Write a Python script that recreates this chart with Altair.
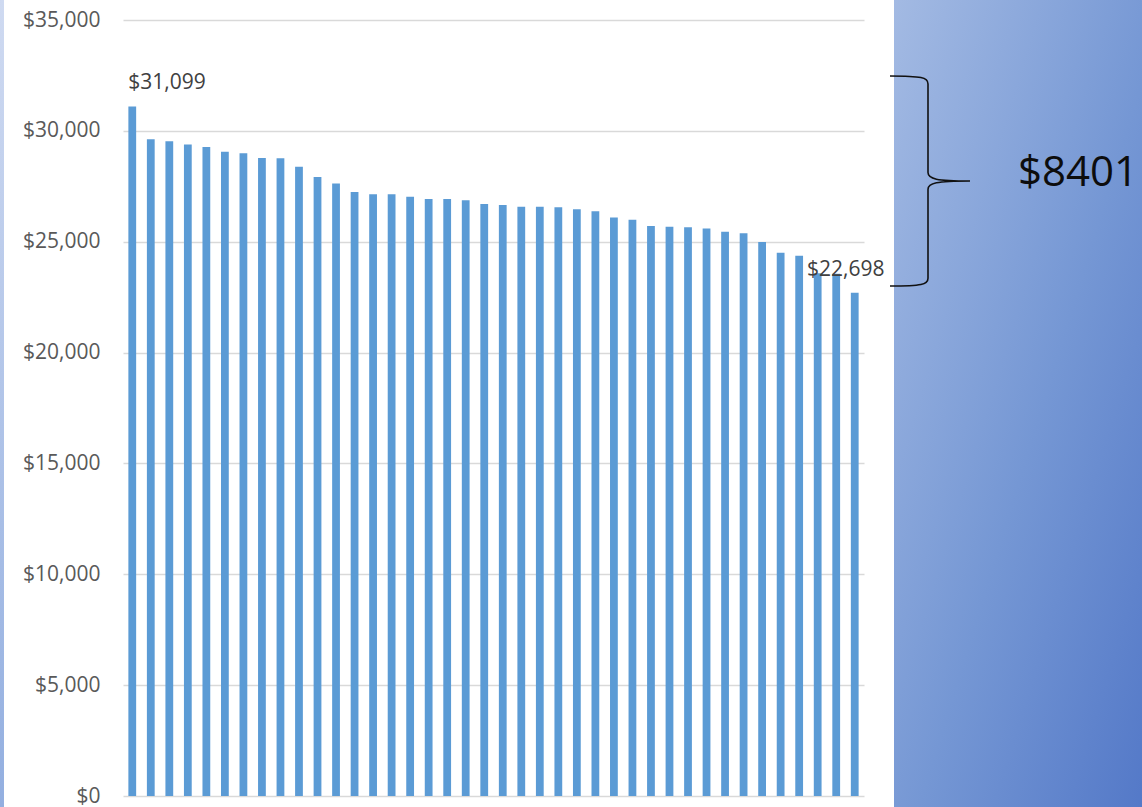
import altair as alt
import pandas as pd

# Amount per item, ranked from highest to lowest
amounts = [31099, 29620, 29530, 29390, 29270, 29060, 28990, 28780, 28760, 28380,
           27920, 27630, 27240, 27140, 27140, 27030, 26930, 26930, 26870, 26700,
           26660, 26580, 26580, 26550, 26460, 26370, 26090, 25990, 25710, 25680,
           25650, 25600, 25450, 25380, 24990, 24500, 24370, 23580, 23560, 22698]
ranks = list(range(1, len(amounts) + 1))
y_ticks = [0, 5000, 10000, 15000, 20000, 25000, 30000, 35000]

df = pd.DataFrame({"rank": ranks, "amount": amounts})

# Gap between the highest and the lowest amount
spread = max(amounts) - min(amounts)
spread_df = pd.DataFrame({"label": [f"${spread}"]})

FONT = "Open Sans"
BAR_BLUE = "#5b9bd5"

x_enc = alt.X("rank:O", axis=None,
              scale=alt.Scale(paddingInner=0.58, paddingOuter=0.29))
y_enc = alt.Y("amount:Q",
              scale=alt.Scale(domain=[0, 35000], nice=False, zero=True),
              axis=alt.Axis(values=y_ticks, format="$,.0f", title=None))

# Decorative panels
right_panel = alt.Chart(spread_df).mark_rect(
    fill=alt.LinearGradient(
        gradient="linear",
        stops=[alt.GradientStop(color="#a3bae3", offset=0),
               alt.GradientStop(color="#7597d4", offset=0.55),
               alt.GradientStop(color="#5479c8", offset=1)],
        x1=0, y1=0, x2=1, y2=1),
    stroke=None,
).encode(x=alt.value(771), x2=alt.value(1019), y=alt.value(-20), y2=alt.value(787))

left_strip = alt.Chart(spread_df).mark_rect(
    fill=alt.LinearGradient(
        gradient="linear",
        stops=[alt.GradientStop(color="#cfdaf1", offset=0),
               alt.GradientStop(color="#93afe0", offset=1)],
        x1=0, y1=0, x2=0, y2=1),
    stroke=None,
).encode(x=alt.value(-123), x2=alt.value(-119), y=alt.value(-20), y2=alt.value(787))

bars = alt.Chart(df).mark_bar(color=BAR_BLUE).encode(x=x_enc, y=y_enc)

first_label = alt.Chart(df).transform_filter(alt.datum.rank == ranks[0]).mark_text(
    align="left", baseline="alphabetic", dx=-4, dy=-17,
    font=FONT, fontSize=21, color="#404040",
).encode(x=x_enc, y=y_enc, text=alt.Text("amount:Q", format="$,.0f"))

last_label = alt.Chart(df).transform_filter(alt.datum.rank == ranks[-1]).mark_text(
    align="center", baseline="alphabetic", dx=-9, dy=-17,
    font=FONT, fontSize=21, color="#404040",
).encode(x=x_enc, y=y_enc, text=alt.Text("amount:Q", format="$,.0f"))

# Curly brace drawn as a custom symbol path (unit box scaled by the size)
BRACE_PATH = ("M -0.362,-1 C -0.06,-1 0,-0.985 0,-0.925 L 0,-0.08 "
              "C 0,-0.02 0.08,0 0.4,0 M 0.4,0 C 0.08,0 0,0.02 0,0.08 "
              "L 0,0.925 C 0,0.985 -0.06,1 -0.362,1")
brace = alt.Chart(spread_df).mark_point(
    shape=BRACE_PATH, size=210 * 210, filled=False,
    stroke="#111111", strokeWidth=1.6, opacity=1,
).encode(x=alt.value(805), y=alt.value(161))

spread_text = alt.Chart(spread_df).mark_text(
    align="center", baseline="alphabetic", font=FONT, fontSize=42, color="#0d0d0d",
).encode(x=alt.value(955), y=alt.value(166), text="label:N")

chart = alt.layer(
    right_panel, left_strip, bars, first_label, last_label, brace, spread_text
).properties(
    width=741,
    height=776,
    autosize=alt.AutoSizeParams(type="none"),
    padding={"left": 123, "top": 20, "right": 278, "bottom": 11},
    background="white",
).configure_view(
    stroke=None,
).configure_axis(
    grid=True,
    gridColor="#d9d9d9",
    gridWidth=1.5,
    domain=False,
    ticks=False,
    tickSize=0,
    labelFont=FONT,
    labelFontSize=21,
    labelColor="#595959",
    labelPadding=23,
)

chart.save("out.html", embed_options={"renderer": "svg", "actions": False})
